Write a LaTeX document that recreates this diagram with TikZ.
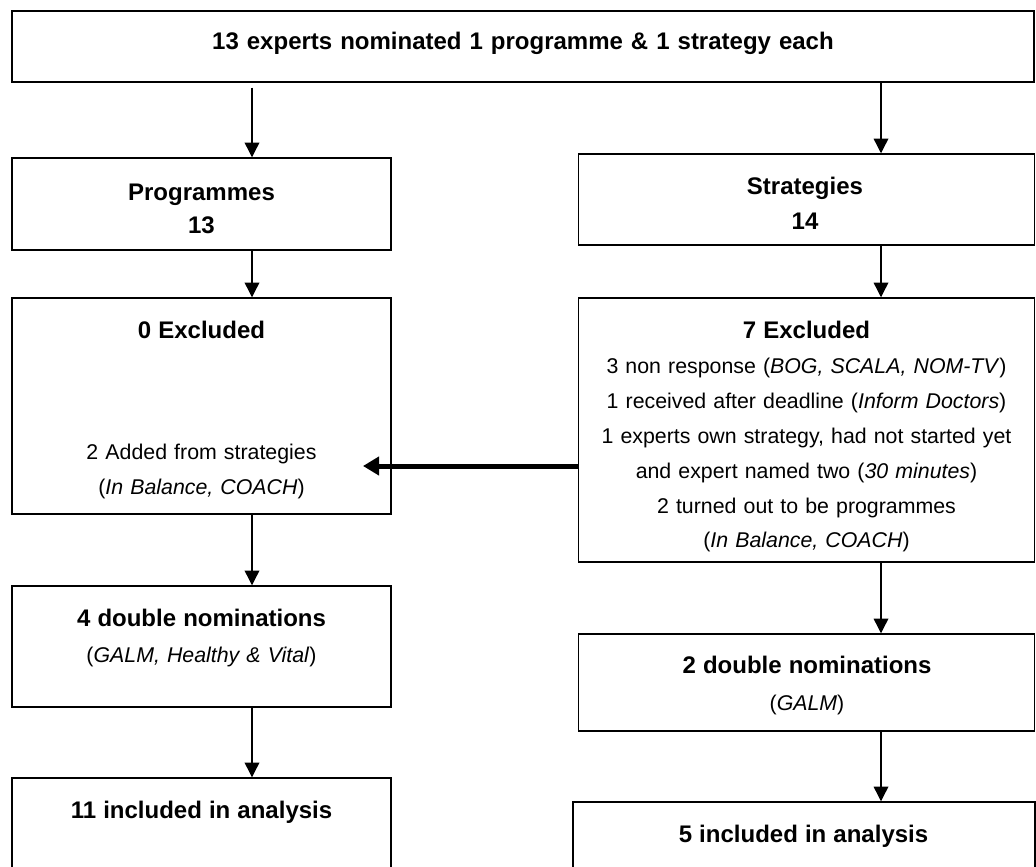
\documentclass[tikz,border=0pt]{standalone}
\usepackage{fontspec}
\setmainfont{Liberation Sans}
\usetikzlibrary{arrows.meta, positioning}

\newcommand{\hd}[1]{{\fontsize{18pt}{24pt}\selectfont\bfseries #1}}

\begin{document}
\begin{tikzpicture}[x=0.75pt, y=-0.75pt,
    box/.style={draw, line width=1.1pt, inner sep=0pt},
    lbox/.style={box, minimum width=284.25pt},
    rbox/.style={box, minimum width=342pt},
    txt/.style={anchor=base, align=center, text width=330pt, inner sep=0pt,
        font=\fontsize{16pt}{26.25pt}\selectfont},
    flow/.style={-{Triangle[length=11pt, width=11pt]}, line width=1pt},
    thick flow/.style={-{Triangle[length=12pt, width=13.5pt]}, line width=3.75pt}]
\clip (0,0) rectangle (1036,867);
% Boxes
\node[box, minimum width=766.5pt, minimum height=53.25pt] (top) at (523,46.5) {};
\node[lbox, minimum height=69pt] (prog) at (201.5,204) {};
\node[rbox, minimum height=68.25pt] (strat) at (806.5,199.5) {};
\node[lbox, minimum height=162pt] (excl0) at (201.5,406) {};
\node[rbox, minimum height=198pt] (excl7) at (806.5,430) {};
\node[lbox, minimum height=90.75pt] (dbl4) at (201.5,646.5) {};
\node[rbox, minimum height=72.75pt] (dbl2) at (806.5,682.5) {};
\node[lbox, minimum height=93pt] (inc11) at (201.5,840) {};
\node[box, minimum width=346.5pt, minimum height=75pt] (inc5) at (804,852) {};
% Texts
\node[txt, text width=760pt, font=\fontsize{18pt}{24pt}\selectfont\bfseries] (top-t) at (523,50)
    {13 experts nominated 1 programme \& 1 strategy each};
\node[txt, font=\fontsize{18pt}{24.75pt}\selectfont\bfseries] (prog-t) at (201.5,200) {Programmes\\13};
\node[txt, font=\fontsize{18pt}{26.25pt}\selectfont\bfseries] (strat-t) at (805,195) {Strategies\\14};
\node[txt] (excl0-t) at (201.5,338) {\hd{0 Excluded}\\[64.5pt]
    2 Added from strategies\\
    (\textit{In Balance, COACH})};
\node[txt, font=\fontsize{16pt}{26.1pt}\selectfont] (excl7-t) at (806.5,338) {\hd{7 Excluded}\\[0.75pt]
    3 non response (\textit{BOG, SCALA, NOM-TV})\\
    1 received after deadline (\textit{Inform Doctors})\\
    1 experts own strategy, had not started yet\\
    and expert named two (\textit{30 minutes})\\
    2 turned out to be programmes\\
    (\textit{In Balance, COACH})};
\node[txt] (dbl4-t) at (201.5,626) {\hd{4 double nominations}\\[0.75pt]
    (\textit{GALM, Healthy \& Vital})};
\node[txt] (dbl2-t) at (807,673) {\hd{2 double nominations}\\[1.5pt]
    (\textit{GALM})};
\node[txt] (inc11-t) at (201.5,818) {\hd{11 included in analysis}};
\node[txt] (inc5-t) at (803.5,842) {\hd{5 included in analysis}};
% Arrows
\coordinate (lx) at (252,0);
\coordinate (rx) at (881,0);
\coordinate (addin) at (363,466);
\draw[flow, shorten <=3.75pt] (top.south -| lx) -- (prog.north -| lx);
\draw[flow] (top.south -| rx) -- (strat.north -| rx);
\draw[flow] (prog.south -| lx) -- (excl0.north -| lx);
\draw[flow] (excl0.south -| lx) -- (dbl4.north -| lx);
\draw[flow] (dbl4.south -| lx) -- (inc11.north -| lx);
\draw[flow] (strat.south -| rx) -- (excl7.north -| rx);
\draw[flow] (excl7.south -| rx) -- (dbl2.north -| rx);
\draw[flow] (dbl2.south -| rx) -- (inc5.north -| rx);
\draw[thick flow] (excl7.west |- addin) -- (addin);
\end{tikzpicture}
\end{document}
